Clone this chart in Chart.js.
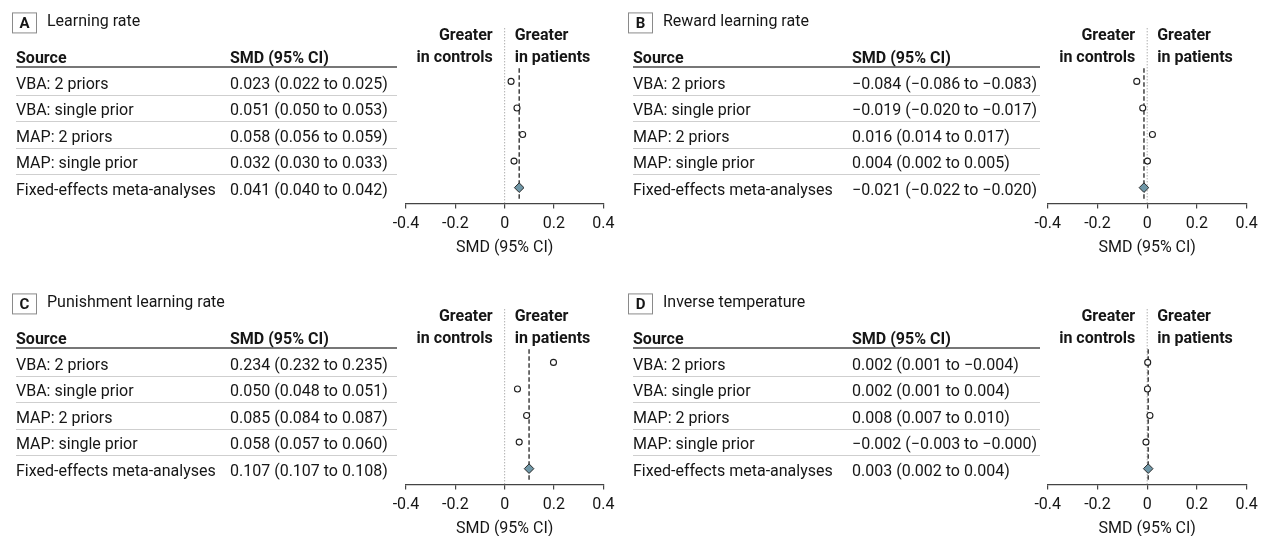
<!DOCTYPE html>
<html>
<head>
<meta charset="utf-8">
<title>Forest plots</title>
<script src="https://cdn.jsdelivr.net/npm/chart.js@4.4.1/dist/chart.umd.min.js"></script>
<style>
  html, body { margin: 0; padding: 0; background: #fff; overflow: hidden; }
  #wrap { position: relative; width: 1265px; height: 536px; overflow: hidden; }
  #wrap canvas { position: absolute; left: 0; top: 0; }
</style>
</head>
<body>
<div id="wrap">
  <canvas id="panelA" width="1265" height="560"></canvas>
  <canvas id="panelB" width="1265" height="560"></canvas>
  <canvas id="panelC" width="1265" height="560"></canvas>
  <canvas id="panelD" width="1265" height="560"></canvas>
</div>
<script>
// forest plots: 4 panels, each a scatter chart with the table text drawn by a small plugin

const sources = ['VBA: 2 priors', 'VBA: single prior', 'MAP: 2 priors', 'MAP: single prior', 'Fixed-effects meta-analyses'];
const panelLetters = ['A', 'B', 'C', 'D'];
const panelTitles = ['Learning rate', 'Reward learning rate', 'Punishment learning rate', 'Inverse temperature'];

// SMD (95% CI) column text
const smdTextA = ['0.023 (0.022 to 0.025)', '0.051 (0.050 to 0.053)', '0.058 (0.056 to 0.059)', '0.032 (0.030 to 0.033)', '0.041 (0.040 to 0.042)'];
const smdTextB = ['\u22120.084 (\u22120.086 to \u22120.083)', '\u22120.019 (\u22120.020 to \u22120.017)', '0.016 (0.014 to 0.017)', '0.004 (0.002 to 0.005)', '\u22120.021 (\u22120.022 to \u22120.020)'];
const smdTextC = ['0.234 (0.232 to 0.235)', '0.050 (0.048 to 0.051)', '0.085 (0.084 to 0.087)', '0.058 (0.057 to 0.060)', '0.107 (0.107 to 0.108)'];
const smdTextD = ['0.002 (0.001 to \u22120.004)', '0.002 (0.001 to 0.004)', '0.008 (0.007 to 0.010)', '\u22120.002 (\u22120.003 to \u22120.000)', '0.003 (0.002 to 0.004)'];

// plotted positions
const studyA = [0.026, 0.050, 0.073, 0.038];
const studyB = [-0.042, -0.018, 0.021, 0.001];
const studyC = [0.198, 0.052, 0.089, 0.059];
const studyD = [0.002, 0.001, 0.011, -0.005];
const pooled = [0.059, -0.013, 0.099, 0.004];

const tickValues = [-0.4, -0.2, 0, 0.2, 0.4];
const tickLabels = ['-0.4', '-0.2', '0', '0.2', '0.4'];
const axisTitle = 'SMD (95% CI)';
const sideLabels = [['Greater', 'in controls'], ['Greater', 'in patients']];

const FONT = 'Roboto, "Liberation Sans", sans-serif';
const INK = '#161616';

// layout of each panel (page pixels)
const layouts = [
  { id: 'panelA', top: 0,   srcX: 16,  smdX: 230, ruleEnd: 397,  boxX: 12,  plotL: 406,  plotR: 603.3 },
  { id: 'panelB', top: 0,   srcX: 633, smdX: 852, ruleEnd: 1040, boxX: 628, plotL: 1047.7, plotR: 1246.7 },
  { id: 'panelC', top: 281, srcX: 16,  smdX: 230, ruleEnd: 397,  boxX: 12,  plotL: 406,  plotR: 603.3 },
  { id: 'panelD', top: 281, srcX: 633, smdX: 852, ruleEnd: 1040, boxX: 628, plotL: 1047.7, plotR: 1246.7 }
];

const CANVAS_W = 1265, CANVAS_H = 560;
const Y_MIN = -2, Y_MAX = 4.6;   // row index space, reversed
const AXIS_H = 50.8;            // height the x axis ends up taking below the plot (measured)

const tablePlugin = {
  id: 'forestTable',
  afterDraw(chart, args, o) {
    const ctx = chart.ctx;
    const ys = chart.scales.y, xs = chart.scales.x;
    const y0 = ys.getPixelForValue(0);
    const rowH = ys.getPixelForValue(1) - y0;
    ctx.save();
    ctx.fillStyle = INK;
    ctx.textBaseline = 'alphabetic';

    // letter box + title
    ctx.strokeStyle = '#8a8a8a';
    ctx.lineWidth = 1;
    ctx.strokeRect(o.boxX + 0.5, y0 - 68.5, 24, 20);
    ctx.font = 'bold 15px ' + FONT;
    ctx.textAlign = 'center';
    ctx.fillText(o.letter, o.boxX + 12.5, y0 - 53.3);
    ctx.font = '16px ' + FONT;
    ctx.textAlign = 'left';
    ctx.fillText(o.title, o.boxX + 35, y0 - 55.3);

    // header
    ctx.font = 'bold 16px ' + FONT;
    ctx.fillText('Source', o.srcX, y0 - 18.7);
    ctx.fillText('SMD (95% CI)', o.smdX, y0 - 18.7);
    ctx.strokeStyle = '#4a4a4a';
    ctx.lineWidth = 1.5;
    ctx.beginPath();
    ctx.moveTo(o.srcX, y0 - 14.3);
    ctx.lineTo(o.ruleEnd, y0 - 14.3);
    ctx.stroke();

    // rows
    ctx.font = '16px ' + FONT;
    ctx.strokeStyle = '#cfcfcf';
    ctx.lineWidth = 1;
    for (let i = 0; i < sources.length; i++) {
      const y = ys.getPixelForValue(i);
      ctx.fillText(sources[i], o.srcX, y + 7.3);
      ctx.fillText(o.smd[i], o.smdX, y + 7.3);
      if (i < sources.length - 1) {
        const sy = Math.round(y + rowH / 2) + 0.5;
        ctx.beginPath();
        ctx.moveTo(o.srcX, sy);
        ctx.lineTo(o.ruleEnd, sy);
        ctx.stroke();
      }
    }

    // greater in controls / patients
    const zx = xs.getPixelForValue(0);
    ctx.font = 'bold 16px ' + FONT;
    ctx.textAlign = 'right';
    ctx.fillText(sideLabels[0][0], zx - 12, y0 - 41.3);
    ctx.fillText(sideLabels[0][1], zx - 12, y0 - 19.7);
    ctx.textAlign = 'left';
    ctx.fillText(sideLabels[1][0], zx + 10, y0 - 41.3);
    ctx.fillText(sideLabels[1][1], zx + 10, y0 - 19.7);
    ctx.restore();
  }
};

function makePanel(idx, study, smd){
  const L = layouts[idx];
  const axisY = L.top + 205.3;
  const plotTop = L.top + 28.3;
  const studyPts = study.map((v, i) => ({ x: v, y: i }));
  const pool = pooled[idx];

  return new Chart(document.getElementById(L.id), {
    type: 'scatter',
    data: {
      datasets: [
        { // study estimates
          data: studyPts, order: 1,
          pointStyle: 'circle', pointRadius: 3, pointBorderWidth: 1.1,
          pointBackgroundColor: '#fff', pointBorderColor: '#1e1e1e'
        },
        { // pooled estimate
          data: [{ x: pool, y: 4 }], order: 0,
          pointStyle: 'rectRot', pointRadius: 4.8, pointBorderWidth: 1,
          pointBackgroundColor: '#6f97a7', pointBorderColor: '#2a2a2a'
        },
        { // pooled reference line
          type: 'line', data: [{ x: pool, y: -0.5 }, { x: pool, y: 4.45 }], order: 3,
          borderColor: '#333', borderWidth: 1.4, borderDash: [4.5, 2.5], pointRadius: 0
        },
        { // zero line
          type: 'line', data: [{ x: 0, y: Y_MIN }, { x: 0, y: Y_MAX }], order: 4,
          borderColor: '#8c8c8c', borderWidth: 1, borderDash: [1, 2], pointRadius: 0
        }
      ]
    },
    options: {
      responsive: false,
      animation: false,
      events: [],
      clip: false,
      layout: {
        padding: { left: L.plotL, right: CANVAS_W - L.plotR, top: plotTop, bottom: CANVAS_H - axisY - AXIS_H }
      },
      plugins: {
        legend: { display: false },
        tooltip: { enabled: false },
        forestTable: {
          letter: panelLetters[idx], title: panelTitles[idx], smd: smd,
          srcX: L.srcX, smdX: L.smdX, ruleEnd: L.ruleEnd, boxX: L.boxX
        }
      },
      scales: {
        x: {
          type: 'linear', min: -0.4, max: 0.4,
          afterBuildTicks: s => { s.ticks = tickValues.map(v => ({ value: v })); },
          ticks: {
            padding: 6, color: INK, maxRotation: 0, autoSkip: false,
            font: { family: FONT, size: 16 },
            callback: (v, i) => tickLabels[i]
          },
          grid: { drawOnChartArea: false, drawTicks: true, tickLength: 5, color: '#444', lineWidth: 1.2 },
          border: { display: true, color: '#444', width: 1.3 },
          title: {
            display: true, text: axisTitle, color: INK,
            font: { family: FONT, size: 16, lineHeight: 1.0 },
            padding: { top: 0.3, bottom: 0 }
          }
        },
        y: { type: 'linear', min: Y_MIN, max: Y_MAX, reverse: true, display: false }
      }
    },
    plugins: [tablePlugin]
  });
}

makePanel(0, studyA, smdTextA);
makePanel(1, studyB, smdTextB);
makePanel(2, studyC, smdTextC);
makePanel(3, studyD, smdTextD);
</script>
</body>
</html>
